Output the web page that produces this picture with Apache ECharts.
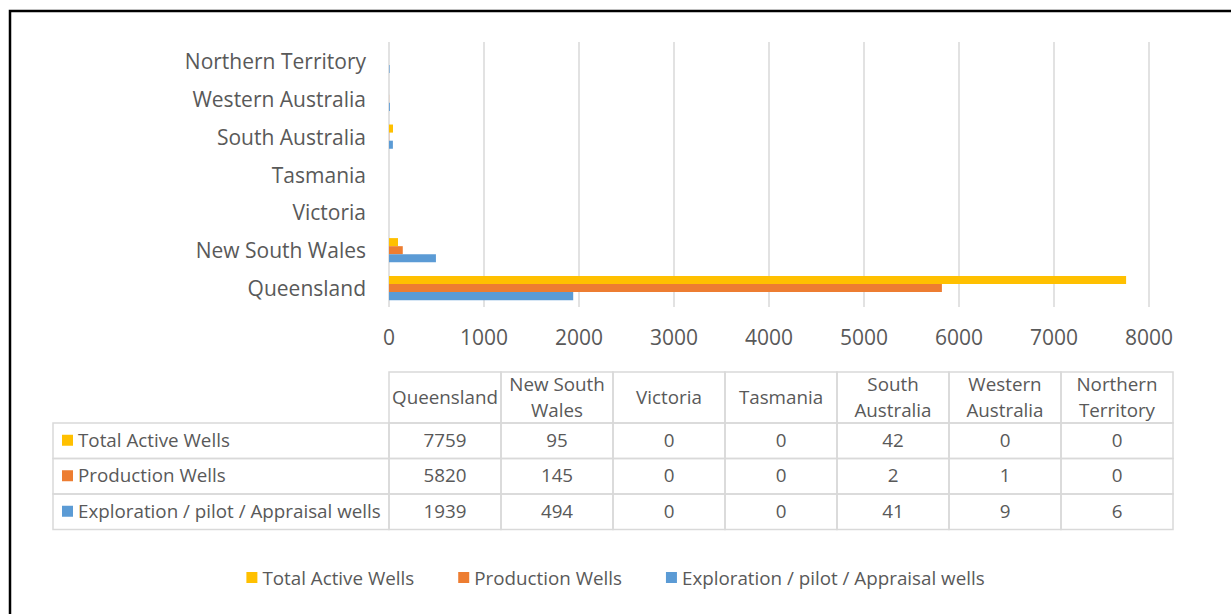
<!DOCTYPE html>
<html>
<head>
<meta charset="utf-8">
<script src="https://cdn.jsdelivr.net/npm/echarts@6/dist/echarts.min.js"></script>
<style>
  html, body { margin: 0; padding: 0; background: #fff; }
  #chart { width: 1231px; height: 614px; }
</style>
</head>
<body>
<div id="chart"></div>
<script>
// data
const categories = ['Queensland', 'New South Wales', 'Victoria', 'Tasmania', 'South Australia', 'Western Australia', 'Northern Territory'];
const totalActive = [7759, 95, 0, 0, 42, 0, 0];
const production = [5820, 145, 0, 0, 2, 1, 0];
const exploration = [1939, 494, 0, 0, 41, 9, 6];
const seriesNames = ['Total Active Wells', 'Production Wells', 'Exploration / pilot / Appraisal wells'];
const xTicks = [0, 1000, 2000, 3000, 4000, 5000, 6000, 7000, 8000];

const colors = ['#FFC000', '#ED7D31', '#5B9BD5'];
const textColor = '#595959';
const fontFamily = '"Open Sans", sans-serif';
const lineColor = '#d9d9d9';
const tableFont = 18.8;

const myChart = echarts.init(document.getElementById('chart'), null, { renderer: 'svg' });

const rows = [totalActive, production, exploration];

// data table under the chart
const tableLeft = 53, colStart = 389, colW = 112, headTop = 372, headH = 51, rowH = 35.5;
const graphics = [];

// outer frame (top + left visible)
graphics.push({
    type: 'rect',
    shape: { x: 10, y: 11, width: 1240, height: 640 },
    style: { fill: 'none', stroke: '#000', lineWidth: 2.5 }
});

const headerLabel = (name) => {
    const i = name.lastIndexOf(' ');
    return i < 0 ? name : name.slice(0, i) + '\n' + name.slice(i + 1);
};

categories.forEach((cat, c) => {
    const x = colStart + c * colW;
    graphics.push({
        type: 'rect',
        shape: { x: x, y: headTop, width: colW, height: headH },
        style: { fill: 'none', stroke: lineColor, lineWidth: 1.5 }
    });
    graphics.push({
        type: 'text',
        x: x + colW / 2,
        y: headTop + headH / 2 - 1,
        style: {
            text: headerLabel(cat), align: 'center', verticalAlign: 'middle',
            fontSize: tableFont, fontFamily: fontFamily, fill: textColor, lineHeight: 26
        }
    });
});

rows.forEach((vals, r) => {
    const y = headTop + headH + r * rowH;
    graphics.push({
        type: 'rect',
        shape: { x: tableLeft, y: y, width: colStart - tableLeft, height: rowH },
        style: { fill: 'none', stroke: lineColor, lineWidth: 1.5 }
    });
    graphics.push({
        type: 'rect',
        shape: { x: 62, y: y + rowH / 2 - 6, width: 11, height: 11 },
        style: { fill: colors[r] }
    });
    graphics.push({
        type: 'text',
        x: 78,
        y: y + rowH / 2 - 1,
        style: {
            text: seriesNames[r], align: 'left', verticalAlign: 'middle',
            fontSize: tableFont, fontFamily: fontFamily, fill: textColor
        }
    });
    vals.forEach((v, c) => {
        const x = colStart + c * colW;
        graphics.push({
            type: 'rect',
            shape: { x: x, y: y, width: colW, height: rowH },
            style: { fill: 'none', stroke: lineColor, lineWidth: 1.5 }
        });
        graphics.push({
            type: 'text',
            x: x + colW / 2,
            y: y + rowH / 2 - 1,
            style: {
                text: String(v), align: 'center', verticalAlign: 'middle',
                fontSize: tableFont, fontFamily: fontFamily, fill: textColor
            }
        });
    });
});

const option = {
    backgroundColor: '#fff',
    animation: false,
    textStyle: { fontFamily: fontFamily },
    grid: { left: 389, right: 82, top: 42, height: 265, containLabel: false },
    xAxis: {
        type: 'value',
        min: xTicks[0],
        max: xTicks[xTicks.length - 1],
        interval: xTicks[1] - xTicks[0],
        axisLine: { show: false },
        axisTick: { show: false },
        axisLabel: { color: textColor, fontSize: 21, margin: 19, formatter: (v) => String(v) },
        splitLine: { lineStyle: { color: lineColor, width: 1.5 } }
    },
    yAxis: {
        type: 'category',
        data: categories,
        axisLine: { show: false },
        axisTick: { show: false },
        axisLabel: { color: textColor, fontSize: 21, margin: 23 }
    },
    legend: {
        bottom: 22,
        left: 'center',
        icon: 'rect',
        itemWidth: 11,
        itemHeight: 11,
        itemGap: 44,
        textStyle: { color: textColor, fontSize: tableFont },
        data: seriesNames
    },
    series: [
        { name: seriesNames[0], type: 'bar', data: totalActive, barGap: '0%', barCategoryGap: '36%', itemStyle: { color: colors[0] } },
        { name: seriesNames[1], type: 'bar', data: production, itemStyle: { color: colors[1] } },
        { name: seriesNames[2], type: 'bar', data: exploration, itemStyle: { color: colors[2] } }
    ],
    graphic: graphics
};

myChart.setOption(option);
window.addEventListener('resize', () => myChart.resize());
</script>
</body>
</html>
